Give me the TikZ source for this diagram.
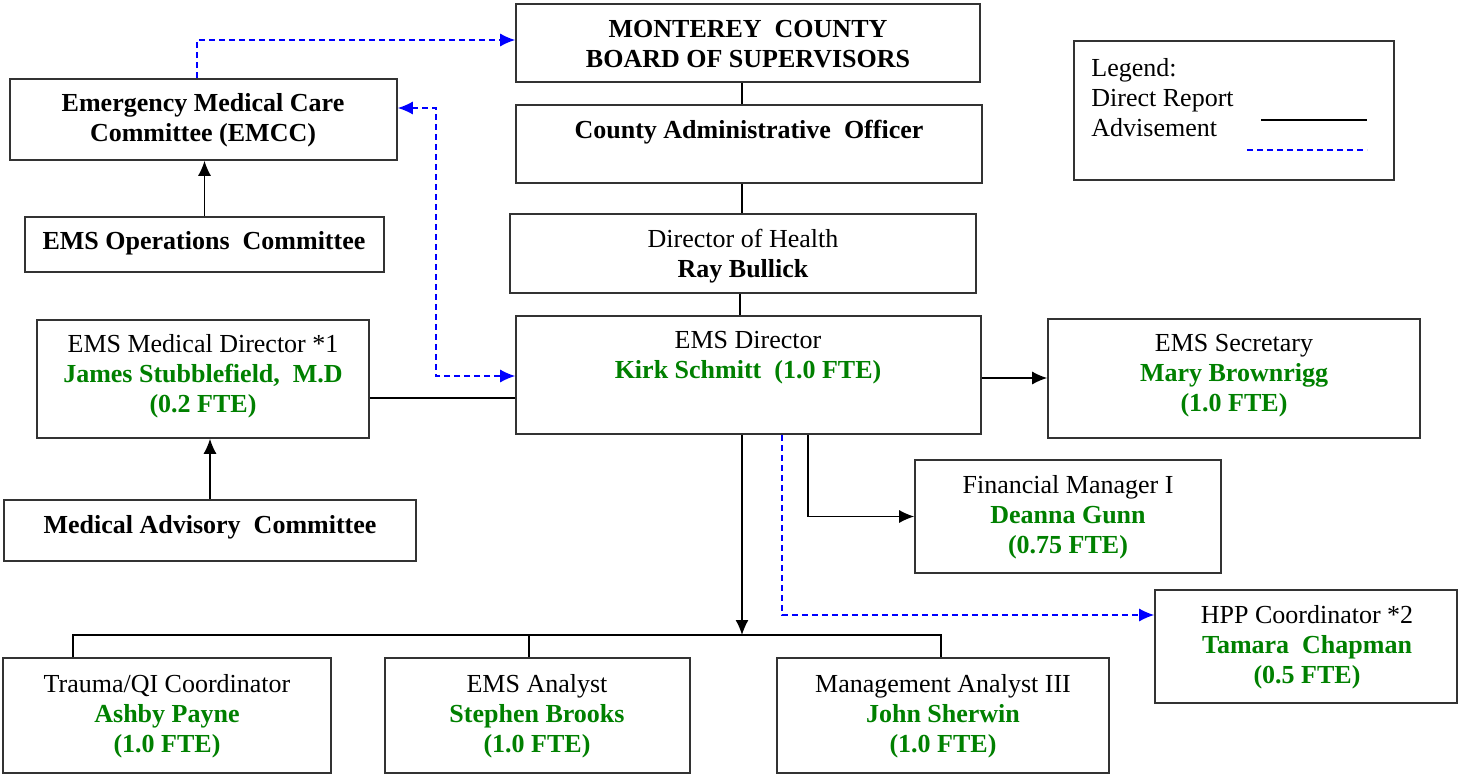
\documentclass[tikz,border=0pt]{standalone}
\usepackage{fontspec}
\setmainfont{Liberation Serif}
\usepackage{tikz}
\usetikzlibrary{arrows.meta,shapes}

\definecolor{staffgreen}{RGB}{0,128,0}
\newcommand{\who}[1]{\textcolor{staffgreen}{\textbf{#1}}}

\begin{document}
\begin{tikzpicture}[x=0.5pt,y=-0.5pt]

	\tikzset{box/.style = {shape=rectangle,draw=black!80,line width=0.8pt,inner sep=0pt}}
	\tikzset{txt/.style = {align=center,inner sep=0pt,font=\fontsize{13}{15}\selectfont}}
	\tikzset{edge/.style = {->,> = {Latex[length=7.5pt,width=6.5pt]},line width=0.7pt}}
	\tikzset{link/.style = {line width=0.7pt}}
	\tikzset{adv/.style = {->,> = {Latex[length=7.5pt,width=6.5pt]},blue,dash pattern=on 3pt off 2pt,line width=0.7pt}}

	\useasboundingbox (0,0) rectangle (1459,776);

	% county chain
	\node[box,minimum width=232pt,minimum height=39pt] (board) at (748,43) {};
	\node[box,minimum width=233pt,minimum height=39pt] (cao) at (749,144) {};
	\node[box,minimum width=233pt,minimum height=39.5pt] (doh) at (743,253.5) {};
	\node[box,minimum width=232.5pt,minimum height=59pt] (emsdir) at (748.5,375) {};

	\node[txt] (boardtxt) at (748,44) {\textbf{MONTEREY\ \ COUNTY}\\\textbf{BOARD OF SUPERVISORS}};
	\node[txt] (caotxt) at (749,132) {\textbf{County Administrative\ \ Officer}};
	\node[txt] (dohtxt) at (743,256) {Director of Health\\\textbf{Ray Bullick}};
	\node[txt] (emsdirtxt) at (748,358) {EMS Director\\\who{Kirk Schmitt\ \ (1.0 FTE)}};

	% committees and medical director
	\node[box,minimum width=193.5pt,minimum height=40.5pt] (emcc) at (203.5,119.5) {};
	\node[box,minimum width=179.5pt,minimum height=27.5pt] (ops) at (204.5,244.5) {};
	\node[box,minimum width=166pt,minimum height=59pt] (meddir) at (203,379) {};
	\node[box,minimum width=206pt,minimum height=30.5pt] (mac) at (210,530.5) {};

	\node[txt] (emcctxt) at (203,120) {\textbf{Emergency Medical Care}\\\textbf{Committee (EMCC)}};
	\node[txt] (opstxt) at (204,243) {\textbf{EMS Operations\ \ Committee}};
	\node[txt] (meddirtxt) at (203,376) {EMS Medical Director *1\\\who{James Stubblefield,\ \ M.D}\\\who{(0.2 FTE)}};
	\node[txt] (mactxt) at (210,527) {\textbf{Medical Advisory\ \ Committee}};

	% staff
	\node[box,minimum width=186pt,minimum height=59.5pt] (sec) at (1234,378.5) {};
	\node[box,minimum width=153pt,minimum height=56.5pt] (fin) at (1068,516.5) {};
	\node[box,minimum width=151pt,minimum height=56.5pt] (hpp) at (1306,646.5) {};
	\node[box,minimum width=164pt,minimum height=57.5pt] (trauma) at (167,715.5) {};
	\node[box,minimum width=152.5pt,minimum height=57.5pt] (analyst) at (537.5,715.5) {};
	\node[box,minimum width=166pt,minimum height=57.5pt] (mgmt) at (943,715.5) {};

	\node[txt] (sectxt) at (1234,376) {EMS Secretary\\\who{Mary Brownrigg}\\\who{(1.0 FTE)}};
	\node[txt] (fintxt) at (1068,517) {Financial Manager I\\\who{Deanna Gunn}\\\who{(0.75 FTE)}};
	\node[txt] (hpptxt) at (1307,647) {HPP Coordinator *2\\\who{Tamara\ \ Chapman}\\\who{(0.5 FTE)}};
	\node[txt] (traumatxt) at (167,716) {Trauma/QI Coordinator\\\who{Ashby Payne}\\\who{(1.0 FTE)}};
	\node[txt] (analysttxt) at (537,716) {EMS Analyst\\\who{Stephen Brooks}\\\who{(1.0 FTE)}};
	\node[txt] (mgmttxt) at (943,716) {Management Analyst III\\\who{John Sherwin}\\\who{(1.0 FTE)}};

	% legend
	\node[box,minimum width=160pt,minimum height=69.5pt] (legend) at (1234,110.5) {};
	\node[txt,align=left,anchor=west] (legendtxt) at (1091,98) {Legend:\\Direct Report\\Advisement};
	\coordinate (solidA) at (1261,120);
	\coordinate (solidB) at (1367,120);
	\coordinate (dashA) at (1247,150);
	\coordinate (dashB) at (1367,150);
	\draw[link] (solidA) to (solidB);
	\draw[adv,-] (dashA) to (dashB);

	% direct reports
	\draw[link] ([xshift=-3pt]board.south) to ([xshift=-3pt]board.south |- cao.north);
	\draw[link] ([xshift=-3.5pt]cao.south) to ([xshift=-3.5pt]cao.south |- doh.north);
	\draw[link] ([xshift=-1.5pt]doh.south) to ([xshift=-1.5pt]doh.south |- emsdir.north);
	\draw[edge] (ops.north) to (ops.north |- emcc.south);
	\draw[edge] (mac.north) to (mac.north |- meddir.south);
	\draw[link] ([yshift=-9.5pt]meddir.east) to ([yshift=-9.5pt]meddir.east -| emsdir.west);
	\draw[edge] ([yshift=-1.5pt]emsdir.east) to ([yshift=-1.5pt]emsdir.east -| sec.west);

	\coordinate (finturn) at (808,0);
	\draw[edge] (emsdir.south -| finturn) |- (fin.west);

	\coordinate (bar) at (742,635);
	\coordinate (barL) at (73,635);
	\coordinate (barM) at (529,635);
	\coordinate (barR) at (941,635);
	\draw[edge] (emsdir.south -| bar) to (bar);
	\draw[link] (barL |- trauma.north) -- (barL) -- (barR) -- (barR |- mgmt.north);
	\draw[link] (barM) to (barM |- analyst.north);

	% advisement
	\coordinate (hppturn) at (782,0);
	\draw[adv] (emsdir.south -| hppturn) |- ([yshift=15.75pt]hpp.west);
	\draw[adv] ([xshift=-3.25pt]emcc.north) |- ([yshift=1.5pt]board.west);
	\coordinate (advturn) at (436,0);
	\draw[adv,<->] ([yshift=5.75pt]emcc.east) -- ([yshift=5.75pt]emcc.east -| advturn) |- ([yshift=-0.5pt]emsdir.west);

\end{tikzpicture}
\end{document}
